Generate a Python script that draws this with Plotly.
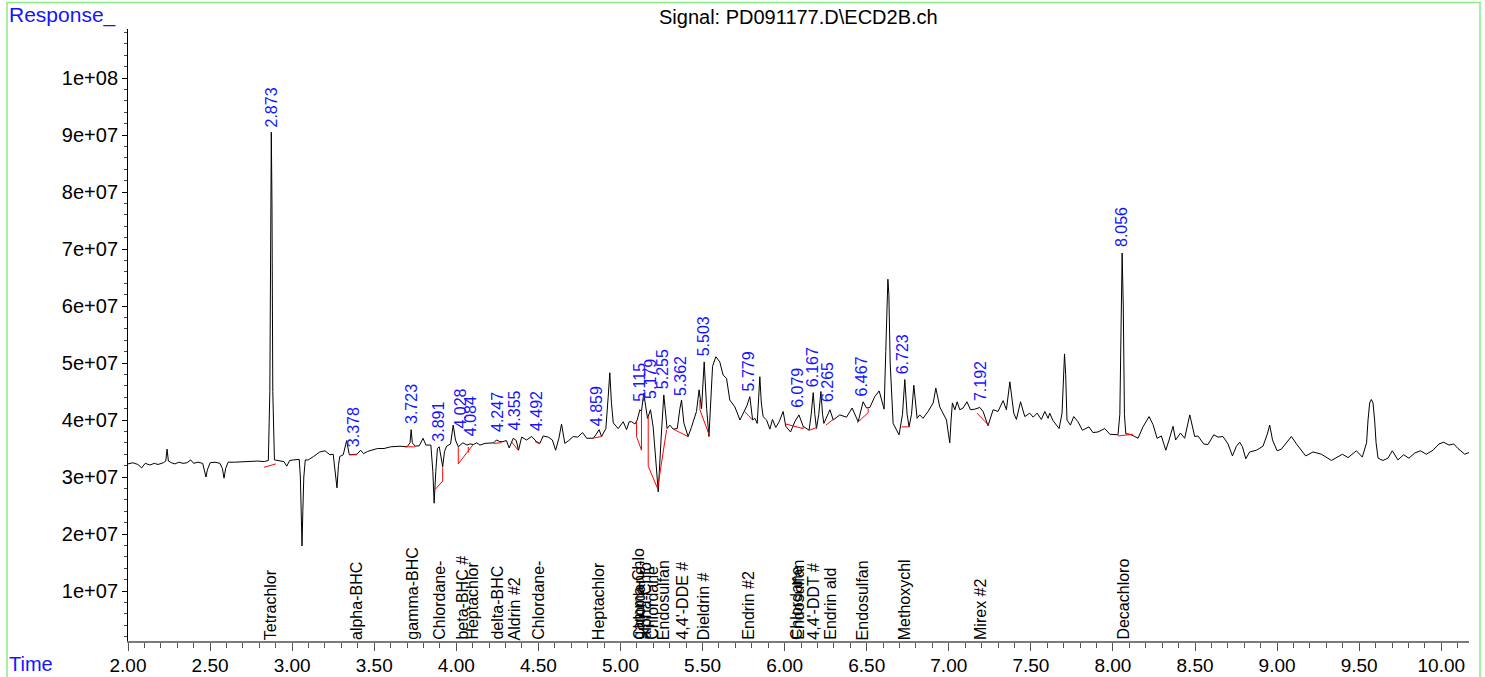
import plotly.graph_objects as go

# ---------------- data ----------------
UNIT = 1e6  # response values below are in millions

time_min = [
    2.000, 2.030, 2.060, 2.083, 2.105, 2.134, 2.160, 2.183, 2.215, 2.230, 2.238, 2.246, 2.265, 2.286,
    2.310, 2.335, 2.360, 2.382, 2.400, 2.426, 2.455, 2.468, 2.475, 2.483, 2.500, 2.530, 2.560, 2.575,
    2.585, 2.595, 2.610, 2.650, 2.700, 2.743, 2.790, 2.830, 2.855, 2.864, 2.869, 2.873, 2.877, 2.882,
    2.892, 2.920, 2.950, 2.967, 2.985, 3.010, 3.043, 3.050, 3.055, 3.060, 3.065, 3.071, 3.080, 3.098,
    3.130, 3.169, 3.200, 3.230, 3.250, 3.262, 3.273, 3.282, 3.290, 3.311, 3.332, 3.348, 3.370, 3.395,
    3.417, 3.435, 3.460, 3.490, 3.520, 3.560, 3.600, 3.657, 3.700, 3.718, 3.725, 3.732, 3.750, 3.775,
    3.797, 3.815, 3.845, 3.857, 3.865, 3.875, 3.885, 3.896, 3.908, 3.917, 3.928, 3.941, 3.965, 3.981,
    3.995, 4.012, 4.040, 4.065, 4.083, 4.105, 4.124, 4.144, 4.175, 4.205, 4.228, 4.245, 4.265, 4.284,
    4.305, 4.322, 4.347, 4.365, 4.379, 4.398, 4.428, 4.459, 4.489, 4.509, 4.529, 4.560, 4.585, 4.605,
    4.625, 4.641, 4.661, 4.685, 4.712, 4.740, 4.769, 4.794, 4.834, 4.850, 4.870, 4.885, 4.911, 4.925,
    4.935, 4.945, 4.956, 4.986, 5.017, 5.037, 5.053, 5.068, 5.088, 5.102, 5.118, 5.128, 5.142, 5.154,
    5.165, 5.183, 5.199, 5.215, 5.230, 5.248, 5.264, 5.284, 5.301, 5.321, 5.346, 5.362, 5.372, 5.386,
    5.412, 5.432, 5.463, 5.479, 5.494, 5.510, 5.525, 5.539, 5.550, 5.561, 5.581, 5.605, 5.625, 5.646,
    5.666, 5.697, 5.728, 5.752, 5.770, 5.788, 5.805, 5.819, 5.833, 5.842, 5.849, 5.858, 5.869, 5.890,
    5.910, 5.926, 5.946, 5.967, 5.991, 6.007, 6.036, 6.062, 6.087, 6.113, 6.149, 6.162, 6.174, 6.184,
    6.194, 6.208, 6.221, 6.231, 6.239, 6.276, 6.296, 6.336, 6.377, 6.411, 6.448, 6.478, 6.499, 6.519,
    6.549, 6.576, 6.606, 6.616, 6.624, 6.629, 6.635, 6.643, 6.661, 6.697, 6.718, 6.732, 6.746, 6.758,
    6.773, 6.787, 6.807, 6.823, 6.843, 6.874, 6.905, 6.921, 6.945, 6.986, 6.998, 7.006, 7.014, 7.022,
    7.037, 7.051, 7.067, 7.087, 7.111, 7.132, 7.158, 7.189, 7.209, 7.239, 7.270, 7.300, 7.331, 7.351,
    7.372, 7.396, 7.412, 7.437, 7.463, 7.493, 7.514, 7.538, 7.564, 7.585, 7.605, 7.615, 7.635, 7.672,
    7.690, 7.698, 7.705, 7.712, 7.720, 7.741, 7.761, 7.787, 7.814, 7.854, 7.878, 7.909, 7.950, 7.981,
    8.031, 8.042, 8.049, 8.056, 8.063, 8.070, 8.078, 8.102, 8.127, 8.153, 8.183, 8.220, 8.244, 8.269,
    8.295, 8.322, 8.342, 8.366, 8.382, 8.411, 8.437, 8.468, 8.498, 8.518, 8.553, 8.579, 8.614, 8.640,
    8.670, 8.701, 8.728, 8.752, 8.772, 8.789, 8.809, 8.833, 8.874, 8.914, 8.939, 8.955, 8.972, 9.000,
    9.026, 9.060, 9.087, 9.118, 9.138, 9.174, 9.219, 9.270, 9.331, 9.365, 9.398, 9.432, 9.483, 9.519,
    9.545, 9.554, 9.564, 9.574, 9.584, 9.594, 9.603, 9.615, 9.645, 9.675, 9.702, 9.736, 9.771, 9.803,
    9.838, 9.873, 9.909, 9.950, 9.986, 10.015, 10.047, 10.076, 10.102, 10.143, 10.169,
]

response_millions = [
    32.3, 32.5, 32.2, 31.6, 32.4, 32.1, 32.4, 32.2, 32.5, 32.8, 34.9, 32.8, 32.5, 32.3,
    32.6, 32.4, 32.5, 33.0, 32.4, 32.6, 32.4, 31.0, 30.0, 31.2, 32.5, 32.6, 32.4, 31.5,
    29.8, 31.5, 32.6, 32.6, 32.7, 32.8, 32.8, 32.7, 32.9, 45.0, 78.0, 90.5, 78.0, 45.0,
    33.0, 32.9, 32.7, 31.9, 32.9, 33.0, 33.1, 30.0, 24.0, 17.9, 24.0, 30.0, 33.0, 33.0,
    33.6, 34.4, 34.6, 33.9, 34.0, 31.0, 28.1, 32.0, 33.6, 33.9, 36.4, 33.9, 33.9, 34.0,
    34.7, 34.1, 34.5, 34.8, 35.0, 35.0, 35.3, 35.4, 35.3, 36.0, 38.3, 36.0, 35.4, 35.5,
    36.8, 35.6, 35.6, 31.0, 25.4, 31.0, 35.0, 35.3, 33.5, 31.8, 34.5, 35.4, 35.8, 39.1,
    36.5, 35.3, 36.0, 35.6, 35.8, 35.7, 36.0, 35.6, 35.9, 35.9, 36.0, 36.5, 36.2, 36.2,
    36.4, 35.1, 36.8, 36.4, 34.7, 37.0, 36.5, 37.1, 36.2, 35.9, 37.2, 37.0, 36.5, 34.7,
    36.8, 39.3, 35.9, 36.4, 37.1, 37.0, 37.8, 36.8, 36.8, 37.4, 38.3, 37.1, 38.5, 44.0,
    48.3, 43.0, 39.5, 38.5, 39.7, 38.3, 39.7, 39.7, 39.3, 40.0, 41.8, 41.5, 44.7, 42.3,
    40.3, 41.8, 38.8, 33.0, 27.4, 37.0, 44.4, 38.5, 39.1, 38.4, 38.5, 42.0, 43.5, 39.5,
    37.1, 38.7, 41.5, 45.3, 42.0, 50.2, 42.0, 37.1, 44.0, 49.4, 51.1, 50.2, 47.9, 47.3,
    43.5, 42.3, 40.0, 41.6, 42.5, 44.1, 40.0, 40.3, 39.4, 44.0, 47.6, 43.0, 40.6, 40.0,
    38.4, 40.1, 38.7, 39.7, 41.5, 38.9, 37.9, 39.7, 40.9, 38.9, 38.2, 41.0, 44.8, 41.0,
    38.5, 41.0, 45.0, 41.0, 39.4, 41.8, 40.0, 40.9, 40.5, 42.1, 39.7, 43.2, 42.1, 42.2,
    44.1, 45.1, 41.9, 52.0, 62.0, 64.7, 62.0, 50.0, 39.4, 37.4, 41.0, 47.1, 41.0, 38.8,
    41.0, 46.1, 40.3, 40.9, 40.3, 41.5, 43.0, 45.6, 42.3, 40.0, 37.5, 36.0, 40.0, 43.0,
    41.8, 43.2, 41.8, 42.1, 43.2, 41.8, 41.9, 42.2, 41.5, 39.0, 41.8, 41.5, 43.4, 41.8,
    46.7, 41.2, 40.1, 43.2, 40.6, 41.2, 40.5, 41.2, 40.1, 41.5, 40.3, 41.2, 39.9, 38.5,
    41.2, 48.0, 51.6, 48.0, 40.0, 39.1, 40.6, 39.7, 38.2, 38.8, 37.8, 37.9, 38.5, 37.5,
    37.4, 41.0, 60.0, 69.3, 60.0, 41.0, 37.6, 37.5, 37.2, 36.8, 38.8, 40.6, 39.2, 36.8,
    37.2, 34.7, 36.5, 38.9, 36.5, 37.7, 36.8, 40.9, 37.1, 37.2, 35.8, 35.7, 37.4, 37.0,
    37.1, 35.8, 33.7, 35.4, 36.1, 35.3, 33.2, 34.4, 34.7, 35.4, 37.4, 39.1, 36.5, 34.6,
    34.9, 36.1, 37.1, 35.8, 35.0, 33.7, 34.4, 34.0, 32.9, 33.5, 34.0, 33.4, 34.6, 33.5,
    36.0, 40.0, 43.0, 43.6, 43.0, 40.0, 36.0, 33.3, 32.9, 33.3, 34.6, 33.0, 33.9, 33.3,
    34.2, 34.6, 34.0, 34.7, 35.8, 36.1, 35.6, 35.8, 35.0, 34.0, 34.3,
]

# integration baselines: each is a polyline of (time, response in millions)
baselines = [
    [(2.828, 31.7), (2.901, 32.3)],
    [(3.352, 33.9), (3.395, 33.9)],
    [(3.687, 35.3), (3.748, 35.3)],
    [(3.917, 31.7), (3.917, 29.3), (3.871, 27.8)],
    [(4.012, 35.3), (4.012, 32.3), (4.100, 35.6)],
    [(4.073, 35.3), (4.073, 34.3)],
    [(4.225, 35.9), (4.276, 36.0)],
    [(4.333, 36.3), (4.377, 34.7)],
    [(4.479, 36.2), (4.509, 35.8)],
    [(4.830, 36.8), (4.885, 37.1)],
    [(5.098, 39.7), (5.098, 37.1), (5.128, 34.7), (5.128, 41.7)],
    [(5.169, 40.6), (5.169, 31.9), (5.226, 28.0), (5.281, 38.3)],
    [(5.321, 38.4), (5.412, 37.1)],
    [(5.484, 43.5), (5.484, 41.8), (5.540, 37.4)],
    [(5.752, 41.6), (5.805, 40.0)],
    [(6.007, 39.3), (6.113, 38.5), (6.113, 38.9)],
    [(6.149, 38.2), (6.198, 38.7)],
    [(6.251, 39.1), (6.296, 40.1)],
    [(6.442, 39.5), (6.509, 41.3), (6.509, 42.0)],
    [(6.712, 38.8), (6.763, 38.8)],
    [(7.172, 41.2), (7.245, 39.0)],
    [(8.031, 37.2), (8.122, 37.5)],
]

peak_labels = ["2.873", "3.378", "3.723", "3.891", "4.028", "4.084", "4.247", "4.355", "4.492",
               "4.859", "5.115", "5.179", "5.255", "5.362", "5.503", "5.779", "6.079", "6.167",
               "6.265", "6.467", "6.723", "7.192", "8.056"]
peak_label_height = [91.2, 35.1, 39.1, 36.1, 38.3, 37.0, 37.7, 37.9, 37.9,
                     38.8, 43.0, 43.5, 45.3, 44.0, 51.0, 44.9, 41.9, 45.6,
                     43.0, 44.0, 47.9, 43.2, 70.2]

compound_names = ["Tetrachlor", "alpha-BHC", "gamma-BHC", "Chlordane-", "beta-BHC #", "Heptachlor",
                  "delta-BHC", "Aldrin #2", "Chlordane-", "Heptachlor", "gamma-Chlo", "Chlordane-",
                  "alpha-Chlo", "Chlordane", "Endosulfan", "4,4'-DDE #", "Dieldrin #", "Endrin #2",
                  "Chlordane", "Endosulfan", "4,4'-DDT #", "Endrin ald", "Endosulfan", "Methoxychl",
                  "Mirex #2", "Decachloro"]
compound_rt = [2.869, 3.389, 3.728, 3.896, 4.032, 4.093,
               4.245, 4.357, 4.499, 4.864, 5.105, 5.115,
               5.150, 5.191, 5.260, 5.372, 5.504, 5.778,
               6.070, 6.080, 6.174, 6.275, 6.474, 6.732,
               7.193, 8.062]

y_tick_values = [1e7, 2e7, 3e7, 4e7, 5e7, 6e7, 7e7, 8e7, 9e7, 1e8]
y_tick_text = ["1e+07", "2e+07", "3e+07", "4e+07", "5e+07", "6e+07", "7e+07", "8e+07", "9e+07", "1e+08"]

title_text = "Signal: PD091177.D\\ECD2B.ch"

# ---------------- figure ----------------
FONT = "Arial, 'Liberation Sans', Helvetica, sans-serif"
BLUE = "#1414ff"

fig = go.Figure()

fig.add_trace(go.Scatter(
    x=time_min, y=[v * UNIT for v in response_millions],
    mode="lines", line=dict(color="black", width=1), hoverinfo="skip", showlegend=False,
))

bx, by = [], []
for seg in baselines:
    for t, v in seg:
        bx.append(t)
        by.append(v * UNIT)
    bx.append(None)
    by.append(None)
fig.add_trace(go.Scatter(x=bx, y=by, mode="lines", line=dict(color="red", width=1),
                         hoverinfo="skip", showlegend=False))

annotations = []
for lab, h in zip(peak_labels, peak_label_height):
    annotations.append(dict(x=float(lab), y=h * UNIT, xref="x", yref="y", text=lab,
                            textangle=-90, showarrow=False, xanchor="center", yanchor="bottom",
                            font=dict(family=FONT, size=16, color=BLUE), borderpad=0))
for name, rt in zip(compound_names, compound_rt):
    annotations.append(dict(x=rt, y=0, xref="x", yref="paper", text=name,
                            textangle=-90, showarrow=False, xanchor="center", yanchor="bottom",
                            font=dict(family=FONT, size=16, color="black"), borderpad=0))

# plot area in pixels: x 128..1469, y 29..641
PW, PH = 1341.0, 612.0
def px_x(p):
    return (p - 128) / PW
def px_y(p):
    return (641 - p) / PH

annotations.append(dict(x=0.5, y=px_y(17), xref="paper", yref="paper", text=title_text,
                        showarrow=False, xanchor="center", yanchor="middle",
                        font=dict(family=FONT, size=20, color="black")))
annotations.append(dict(x=px_x(7), y=px_y(15), xref="paper", yref="paper", text="Response_",
                        showarrow=False, xanchor="left", yanchor="middle",
                        font=dict(family=FONT, size=21, color=BLUE)))
annotations.append(dict(x=px_x(7), y=px_y(664), xref="paper", yref="paper", text="Time",
                        showarrow=False, xanchor="left", yanchor="middle",
                        font=dict(family=FONT, size=20, color=BLUE)))

shapes = [dict(type="rect", xref="paper", yref="paper",
               x0=px_x(7), x1=px_x(1480), y0=px_y(700), y1=px_y(2.5),
               line=dict(color="#86f086", width=1.5), fillcolor="rgba(0,0,0,0)", layer="above")]

fig.update_layout(
    width=1485, height=677,
    margin=dict(l=128, r=16, t=29, b=36, autoexpand=False),
    paper_bgcolor="white", plot_bgcolor="white",
    font=dict(family=FONT, size=20, color="black"),
    annotations=annotations, shapes=shapes, showlegend=False,
)

fig.update_xaxes(
    range=[2.0, 10.169], showgrid=False, zeroline=False, automargin=False,
    showline=True, linecolor="#7a7a7a", linewidth=2,
    ticks="outside", ticklen=8, tickwidth=1, tickcolor="#555555",
    tick0=2.0, dtick=0.5, tickformat=".2f", ticklabelstandoff=-2,
    tickfont=dict(family=FONT, size=19, color="black"),
    minor=dict(dtick=0.1, ticks="outside", ticklen=5, tickwidth=1, tickcolor="#555555", showgrid=False),
)
fig.update_yaxes(
    range=[1.23e6, 108.6e6], showgrid=False, zeroline=False, automargin=False,
    showline=True, linecolor="black", linewidth=1,
    ticks="outside", ticklen=5, tickwidth=1, tickcolor="black",
    tickvals=y_tick_values, ticktext=y_tick_text,
    tickfont=dict(family=FONT, size=20, color="black"),
    minor=dict(dtick=2e6, tick0=0, ticks="outside", ticklen=3, tickwidth=1, tickcolor="#444444", showgrid=False),
)

fig.write_html("out.html", config={"displayModeBar": False},
               post_script="document.body.style.margin='0';document.body.style.overflow='hidden';")
